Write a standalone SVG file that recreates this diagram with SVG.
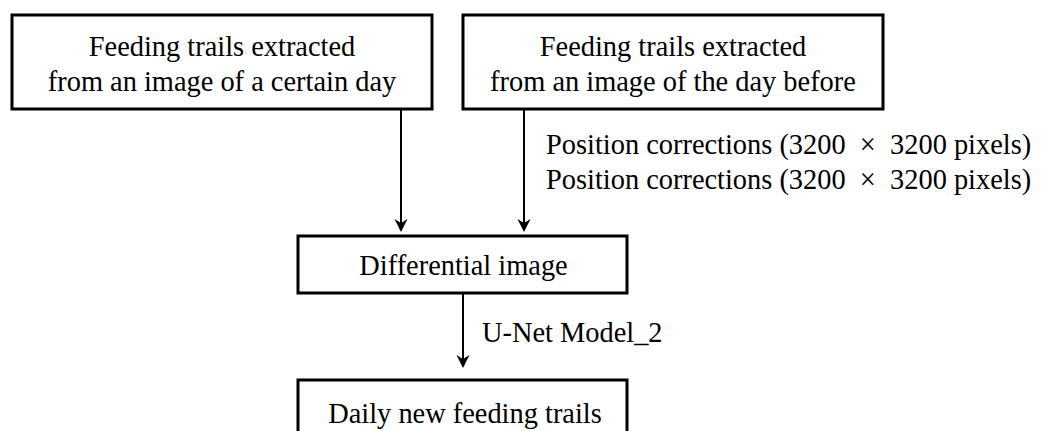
<svg xmlns="http://www.w3.org/2000/svg" width="1052" height="431" viewBox="0 0 1052 431">
  <style>
    .box { fill: #ffffff; stroke: #000000; stroke-width: 3; }
    .t { font-family: "Liberation Serif", "Times New Roman", serif; font-size: 28.4px; fill: #000000; }
    .c { text-anchor: middle; }
    .conn { stroke: #000000; stroke-width: 2; fill: none; marker-end: url(#arrow); }
  </style>
  <defs>
    <marker id="arrow" markerUnits="userSpaceOnUse" viewBox="0 -7 14 14" markerWidth="14" markerHeight="14" refX="8" refY="0" orient="auto">
      <path d="M13,0 L0,-6.5 L4,0 L0,6.5 Z" fill="#000000"/>
    </marker>
  </defs>
  <rect width="1052" height="431" fill="#ffffff"/>

  <g id="connectors">
    <line class="conn" x1="401" y1="109" x2="401" y2="227"/>
    <line class="conn" x1="524" y1="109" x2="524" y2="227"/>
    <line class="conn" x1="463" y1="293" x2="463" y2="363"/>
  </g>

  <g id="node-certain-day">
    <rect class="box" x="12" y="15" width="420" height="94"/>
    <text class="t c" x="222" y="56">Feeding trails extracted</text>
    <text class="t c" x="222" y="91">from an image of a certain day</text>
  </g>

  <g id="node-day-before">
    <rect class="box" x="463" y="15" width="420" height="94"/>
    <text class="t c" x="673" y="56">Feeding trails extracted</text>
    <text class="t c" x="673" y="91">from an image of the day before</text>
  </g>

  <g id="label-position">
    <text class="t" x="546" y="154" xml:space="preserve" style="white-space:pre">Position corrections (3200  ×  3200 pixels)</text>
    <text class="t" x="546" y="189" xml:space="preserve" style="white-space:pre">Position corrections (3200  ×  3200 pixels)</text>
  </g>

  <g id="node-differential">
    <rect class="box" x="298" y="236" width="329" height="57"/>
    <text class="t c" x="463.5" y="275">Differential image</text>
  </g>

  <g id="label-unet">
    <text class="t" x="482" y="342">U-Net Model_2</text>
  </g>

  <g id="node-daily-new">
    <rect class="box" x="298" y="380" width="329" height="62"/>
    <text class="t c" x="465" y="423">Daily new feeding trails</text>
  </g>
</svg>
